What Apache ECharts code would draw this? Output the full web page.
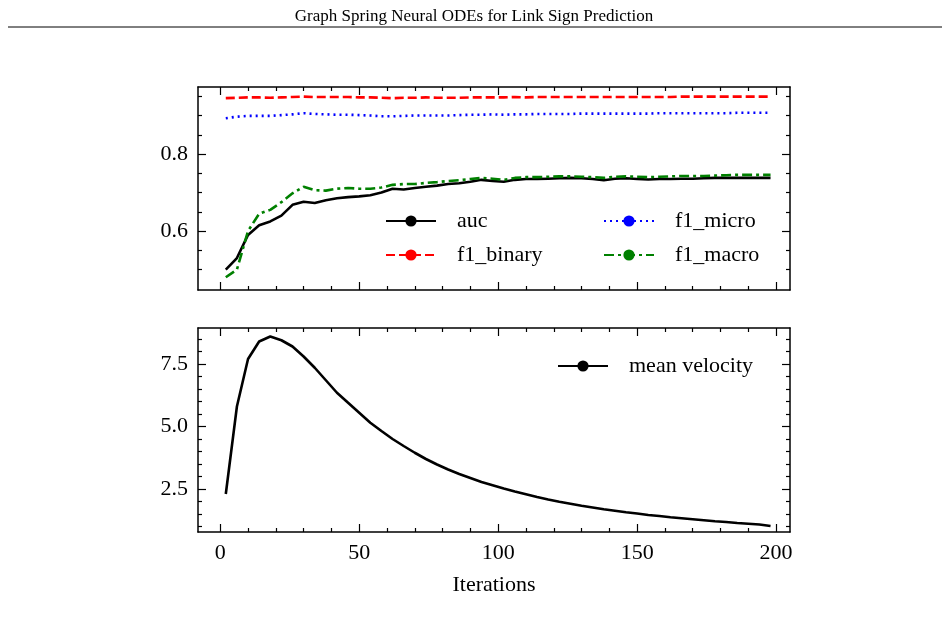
<!DOCTYPE html>
<html>
<head>
<meta charset="utf-8">
<script src="https://cdn.jsdelivr.net/npm/echarts@6/dist/echarts.min.js"></script>
<style>
html, body { margin: 0; padding: 0; background: #fff; }
#chart { width: 948px; height: 634px; }
</style>
</head>
<body>
<div id="chart"></div>
<script>
var iterations = [2,6,10,14,18,22,26,30,34,38,42,46,50,54,58,62,66,70,74,78,82,86,90,94,98,102,106,110,114,118,122,126,130,134,138,142,146,150,154,158,162,166,170,174,178,182,186,190,194,198];
var auc = [0.500,0.530,0.590,0.615,0.625,0.640,0.668,0.676,0.673,0.680,0.685,0.688,0.690,0.693,0.700,0.710,0.708,0.712,0.715,0.718,0.722,0.724,0.728,0.733,0.730,0.728,0.733,0.735,0.735,0.736,0.737,0.738,0.737,0.735,0.732,0.736,0.737,0.735,0.734,0.735,0.735,0.736,0.736,0.737,0.738,0.738,0.738,0.738,0.738,0.738];
var f1Binary = [0.945,0.946,0.947,0.947,0.946,0.947,0.948,0.949,0.948,0.948,0.948,0.948,0.947,0.947,0.946,0.945,0.946,0.946,0.947,0.946,0.946,0.946,0.947,0.947,0.947,0.947,0.948,0.947,0.948,0.948,0.948,0.948,0.948,0.948,0.948,0.948,0.948,0.948,0.948,0.948,0.948,0.949,0.949,0.949,0.949,0.949,0.949,0.949,0.949,0.949];
var f1Micro = [0.893,0.897,0.899,0.899,0.899,0.901,0.903,0.906,0.904,0.903,0.902,0.902,0.901,0.900,0.898,0.898,0.899,0.900,0.900,0.900,0.900,0.901,0.902,0.902,0.903,0.902,0.903,0.903,0.904,0.904,0.904,0.904,0.905,0.905,0.905,0.905,0.905,0.905,0.905,0.906,0.906,0.906,0.906,0.906,0.906,0.906,0.907,0.907,0.907,0.907];
var f1Macro = [0.480,0.500,0.600,0.645,0.655,0.675,0.698,0.715,0.706,0.705,0.710,0.712,0.710,0.710,0.713,0.720,0.722,0.722,0.725,0.727,0.730,0.732,0.735,0.738,0.736,0.733,0.738,0.740,0.740,0.741,0.742,0.742,0.741,0.740,0.738,0.741,0.742,0.741,0.740,0.741,0.742,0.743,0.743,0.743,0.744,0.745,0.746,0.746,0.746,0.746];
var meanVelocity = [2.30,5.80,7.70,8.40,8.60,8.45,8.20,7.80,7.35,6.85,6.35,5.95,5.55,5.15,4.82,4.50,4.22,3.95,3.70,3.48,3.28,3.10,2.94,2.78,2.65,2.52,2.40,2.29,2.18,2.08,1.99,1.91,1.83,1.76,1.69,1.63,1.57,1.52,1.46,1.42,1.37,1.33,1.29,1.25,1.21,1.18,1.14,1.11,1.08,1.02];
var xMajor = [0,50,100,150,200];
var xMinor = [10,20,30,40,60,70,80,90,110,120,130,140,160,170,180,190];
var topMajor = [0.6,0.8];
var topMinor = [0.5,0.55,0.65,0.7,0.75,0.85,0.9,0.95];
var botMajor = [2.5,5.0,7.5];
var botMinor = [1,1.5,2,3,3.5,4,4.5,5.5,6,6.5,7,8,8.5];

var font = 'Liberation Serif';
var chart = echarts.init(document.getElementById('chart'));

function pair(a) { return iterations.map(function (x, i) { return [x, a[i]]; }); }

function axes(kind, grid, min, max, major, minor, labels, fmt) {
  var list = [];
  var positions = kind === 'x' ? ['bottom', 'top'] : ['left', 'right'];
  positions.forEach(function (pos, p) {
    [major, minor].forEach(function (vals, m) {
      list.push({
        type: 'value', gridIndex: grid, position: pos, min: min, max: max,
        axisLine: { show: m === 0, onZero: false, lineStyle: { color: '#000', width: 1.5 } },
        splitLine: { show: false },
        axisTick: { show: true, inside: true, length: m === 0 ? 8 : 4, customValues: vals, lineStyle: { color: '#000', width: 1.2 } },
        axisLabel: { show: labels && p === 0 && m === 0, customValues: vals, color: '#000', fontFamily: font, fontSize: 22, margin: 10, formatter: fmt }
      });
    });
  });
  return list;
}

var xAxes = axes('x', 0, -8, 205, xMajor, xMinor, false).concat(axes('x', 1, -8, 205, xMajor, xMinor, true, function (v) { return String(v); }));
xAxes[4].name = 'Iterations';
xAxes[4].nameLocation = 'middle';
xAxes[4].nameGap = 42;
xAxes[4].nameTextStyle = { color: '#000', fontFamily: font, fontSize: 22 };
var yAxes = axes('y', 0, 0.447, 0.974, topMajor, topMinor, true, function (v) { return v.toFixed(1); })
  .concat(axes('y', 1, 0.78, 8.94, botMajor, botMinor, true, function (v) { return v.toFixed(1); }));

function line(name, data, color, type, xi, yi) {
  return {
    name: name, type: 'line', data: pair(data), xAxisIndex: xi, yAxisIndex: yi,
    showSymbol: false, symbol: 'none', smooth: false,
    lineStyle: { color: color, width: 2.6, type: type }, itemStyle: { color: color }
  };
}

var legendBase = {
  orient: 'vertical', itemWidth: 50, itemHeight: 14, itemGap: 12,
  textStyle: { color: '#000', fontFamily: font, fontSize: 22, padding: [0, 0, 0, 16] }
};

chart.setOption({
  backgroundColor: '#fff',
  animation: false,
  title: { text: 'Graph Spring Neural ODEs for Link Sign Prediction', left: 'center', top: 3, textStyle: { fontFamily: font, fontSize: 17, fontWeight: 'normal', color: '#000' } },
  graphic: [{ type: 'line', shape: { x1: 8, y1: 27, x2: 942, y2: 27 }, style: { stroke: '#000', lineWidth: 1 } }],
  legend: [
    Object.assign({}, legendBase, { data: ['auc', 'f1_binary'], left: 380, top: 205 }),
    Object.assign({}, legendBase, { data: ['f1_micro', 'f1_macro'], left: 598, top: 205 }),
    Object.assign({}, legendBase, { data: ['mean velocity'], left: 552, top: 350 })
  ],
  grid: [
    { left: 198, top: 87, width: 592, height: 203 },
    { left: 198, top: 328, width: 592, height: 204 }
  ],
  xAxis: xAxes,
  yAxis: yAxes,
  series: [
    line('auc', auc, '#000', 'solid', 0, 0),
    line('f1_binary', f1Binary, '#ff0000', [9, 4], 0, 0),
    line('f1_micro', f1Micro, '#0000ff', [2, 4], 0, 0),
    line('f1_macro', f1Macro, '#008000', [10, 4, 3, 4], 0, 0),
    line('mean velocity', meanVelocity, '#000', 'solid', 4, 4)
  ]
});
</script>
</body>
</html>
